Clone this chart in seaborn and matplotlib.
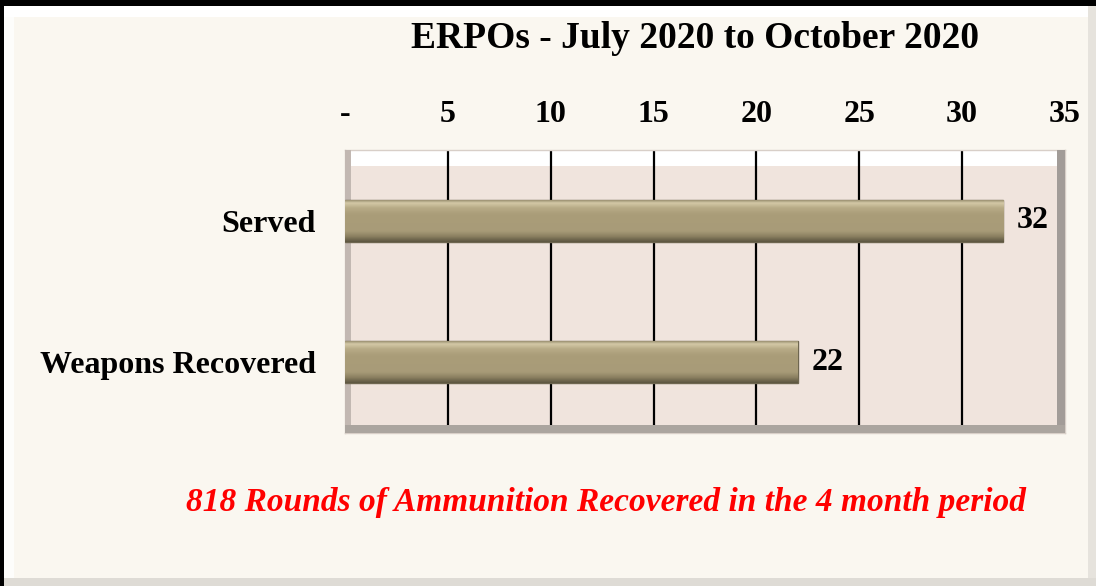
import numpy as np
import pandas as pd
import matplotlib
matplotlib.use("Agg")
import matplotlib.pyplot as plt
from matplotlib.patches import Rectangle
from matplotlib.colors import LinearSegmentedColormap
import seaborn as sns

# ---- data ----
categories = ["Served", "Weapons Recovered"]
values = [32, 22]
x_ticks = [0, 5, 10, 15, 20, 25, 30, 35]
x_tick_labels = ["-", "5", "10", "15", "20", "25", "30", "35"]
title = "ERPOs - July 2020 to October 2020"
footer = "818 Rounds of Ammunition Recovered in the 4 month period"

df = pd.DataFrame({"category": categories, "value": values})

sns.set_theme(style="white")
plt.rcParams["font.family"] = ["Liberation Serif", "DejaVu Serif"]

BG = "#FAF7F0"
PLOT_BG = "#F0E4DD"
BAR = "#A89B78"

fig = plt.figure(figsize=(10.96, 5.86), dpi=100)
fig.patch.set_facecolor(BG)

# outer frame decoration (bevel)
def fig_rect(x, y, w, h, color, alpha=1.0):
    fig.patches.append(Rectangle((x / 1096, 1 - (y + h) / 586), w / 1096, h / 586,
                                 transform=fig.transFigure, facecolor=color,
                                 edgecolor="none", zorder=-1, alpha=alpha))

fig_rect(0, 0, 1096, 6, "black")
fig_rect(0, 0, 4, 586, "black")
fig_rect(4, 6, 1092, 11, "white")
fig_rect(4, 6, 10, 580, "white", 0.8)
fig_rect(1088, 6, 8, 580, "#E6E3DD")
fig_rect(4, 578, 1092, 8, "#DEDBD5")

ax = fig.add_axes([345 / 1096, 153 / 586, 720 / 1096, 283 / 586])
ax.set_facecolor(PLOT_BG)

sns.barplot(data=df, x="value", y="category", orient="h", color=BAR,
            width=0.3, ax=ax, saturation=1, edgecolor="#6E6650", linewidth=1.0,
            zorder=3)

ax.set_xlim(0, 35)
ax.set_ylim(1.5, -0.5)
ax.set_xticks(x_ticks)
ax.set_xticklabels(x_tick_labels)
ax.xaxis.tick_top()
ax.tick_params(axis="x", length=0, pad=15, labelsize=23)
ax.tick_params(axis="y", length=0, pad=21, labelsize=23)
for lab in ax.get_xticklabels() + ax.get_yticklabels():
    lab.set_fontweight("bold")
    lab.set_color("black")
ax.set_xlabel("")
ax.set_ylabel("")

# vertical gridlines
for t in x_ticks[1:-1]:
    ax.axvline(t, color="black", linewidth=1.6, zorder=2.5)

# bevel inside plot area
ax.add_patch(Rectangle((0, 0.945), 1, 0.055, transform=ax.transAxes,
                       facecolor="white", edgecolor="none", zorder=2))
ax.add_patch(Rectangle((0, 0), 0.009, 1, transform=ax.transAxes,
                       facecolor="#C2B8B2", edgecolor="none", zorder=2.7))
ax.add_patch(Rectangle((0.989, 0), 0.011, 1, transform=ax.transAxes,
                       facecolor="#A29C98", edgecolor="none", zorder=2.7))
ax.add_patch(Rectangle((0, 0), 1, 0.028, transform=ax.transAxes,
                       facecolor="#ABA59F", edgecolor="none", zorder=2.7))
for s in ax.spines.values():
    s.set_visible(True)
    s.set_color("#D8CFC8")
    s.set_linewidth(1)

# gradient shading on bars
grad = np.linspace(0, 1, 50).reshape(-1, 1)
cmap = LinearSegmentedColormap.from_list(
    "bevel", [(0, "#8C8264"), (0.08, "#D4C9A7"), (0.2, "#B8AB87"),
              (0.35, "#AA9D79"), (0.75, "#A89B78"), (0.88, "#8A7F60"),
              (1, "#5E5742")])
for p in list(ax.patches):
    if p.get_zorder() != 3 or p.get_width() <= 0:
        continue
    x0, y0 = p.get_x(), p.get_y()
    w, h = p.get_width(), p.get_height()
    im = ax.imshow(grad, cmap=cmap, aspect="auto", interpolation="bilinear",
                   extent=(x0, x0 + w, y0 + h, y0), zorder=3.5)
    im.set_clip_path(p)
ax.set_xlim(0, 35)
ax.set_ylim(1.5, -0.5)

# value labels
for c in ax.containers:
    ax.bar_label(c, labels=[f"{v:g}" for v in c.datavalues], padding=10,
                 fontsize=23, fontweight="bold", color="black")

fig.text(695 / 1096, 1 - 38 / 586, title, ha="center", va="center",
         fontsize=27, fontweight="bold", color="black")
fig.text(606 / 1096, 1 - 503 / 586, footer, ha="center", va="center",
         fontsize=24, fontweight="bold", fontstyle="italic", color="#FF0000")

fig.savefig("out.png", dpi=100, facecolor=BG)
